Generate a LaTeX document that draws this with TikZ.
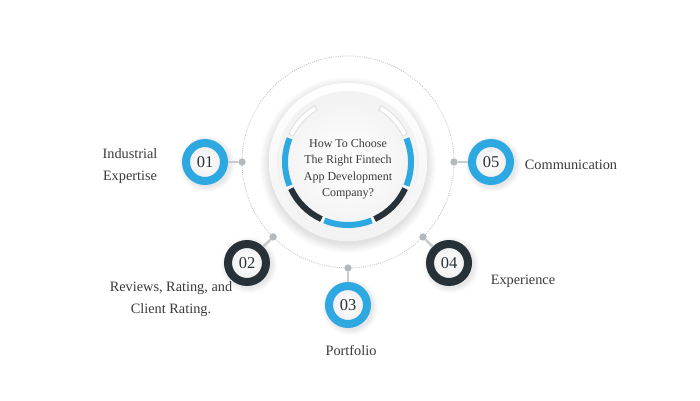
\documentclass[tikz,border=0pt]{standalone}
\usepackage{fontspec}
\setmainfont{Liberation Serif}
\usetikzlibrary{calc}
\definecolor{cblue}{HTML}{2EA8E0}
\definecolor{cdark}{HTML}{263238}
\definecolor{ctext}{HTML}{3A3A3A}
\definecolor{cgrey}{HTML}{B4B9BE}
\definecolor{cline}{HTML}{C9CCCF}
\tikzset{
  numring/.style={circle, draw=#1, line width=8pt, minimum size=38pt, inner sep=0pt,
    inner color=white, outer color=black!7, text=cdark,
    font=\fontsize{16.5}{16.5}\selectfont},
  dotnode/.style={circle, fill=cgrey, minimum size=7pt, inner sep=0pt},
  conn/.style={draw=cline, line width=2.5pt},
  lbl/.style={text=ctext, align=center, font=\fontsize{14.3}{22.5}\selectfont},
  seg/.style={line width=6pt},
}
\begin{document}
\begin{tikzpicture}[x=1pt,y=1pt]
\useasboundingbox (0,0) rectangle (700,400);
\fill[white] (0,0) rectangle (700,400);
\coordinate (C) at (348,238);
% dotted orbit
\draw[cgrey, line width=0.8pt, dash pattern=on 0.8pt off 1.4pt] (C) circle (106);
% big disk shadow
\foreach \i in {1,...,10} {
  \fill[black, opacity=0.012] ($(C)+(0,-3)$) circle ({78+\i});
}
\fill[white] (C) circle (79);
\shade[top color=white, bottom color=black!5] (C) circle (79);
\shade[inner color=white, outer color=black!5] (C) circle (71);
% ring segments
\draw[seg, black!13] ([shift={(120:63)}]C) arc[start angle=120, end angle=155, radius=63];
\draw[line width=4pt, white] ([shift={(121:63)}]C) arc[start angle=121, end angle=154, radius=63];
\draw[seg, black!13] ([shift={(25:63)}]C) arc[start angle=25, end angle=60, radius=63];
\draw[line width=4pt, white] ([shift={(26:63)}]C) arc[start angle=26, end angle=59, radius=63];
\draw[seg, cblue] ([shift={(158:63)}]C) arc[start angle=158, end angle=202, radius=63];
\draw[seg, cdark] ([shift={(205:63)}]C) arc[start angle=205, end angle=245, radius=63];
\draw[seg, cblue] ([shift={(248:63)}]C) arc[start angle=248, end angle=292, radius=63];
\draw[seg, cdark] ([shift={(295:63)}]C) arc[start angle=295, end angle=335, radius=63];
\draw[seg, cblue] ([shift={(338:63)}]C) arc[start angle=338, end angle=382, radius=63];
% title
\node[text=ctext, align=center, font=\fontsize{12}{16.5}\selectfont] (title) at (348,231)
  {How To Choose\\The Right Fintech\\App Development\\Company?};
% dots on orbit
\node[dotnode] (d1) at ([shift={(180:106)}]C) {};
\node[dotnode] (d2) at ([shift={(225:106)}]C) {};
\node[dotnode] (d3) at ([shift={(270:106)}]C) {};
\node[dotnode] (d4) at ([shift={(315:106)}]C) {};
\node[dotnode] (d5) at ([shift={(0:106)}]C) {};
% small circle shadows
\foreach \p in {(205,238),(247,137),(348,95),(449,137),(491,238)} {
  \foreach \i in {1,...,6} {
    \fill[black, opacity=0.015] \p ++(2,-2) circle ({22+\i});
  }
}
% numbered circles
\node[numring=cblue] (c1) at (205,238) {01};
\node[numring=cdark] (c2) at (247,137) {02};
\node[numring=cblue] (c3) at (348,95) {03};
\node[numring=cdark] (c4) at (449,137) {04};
\node[numring=cblue] (c5) at (491,238) {05};
% connectors
\draw[conn] (d1) -- (c1);
\draw[conn] (d2) -- (c2);
\draw[conn] (d3) -- (c3);
\draw[conn] (d4) -- (c4);
\draw[conn] (d5) -- (c5);
\node[dotnode] at (d1) {};
\node[dotnode] at (d2) {};
\node[dotnode] at (d3) {};
\node[dotnode] at (d4) {};
\node[dotnode] at (d5) {};
% labels
\node[lbl] (l1) at (130,234) {Industrial\\Expertise};
\node[lbl] (l2) at (171,101) {Reviews, Rating, and\\Client Rating.};
\node[lbl] (l3) at (351,49) {Portfolio};
\node[lbl] (l4) at (523,119) {Experience};
\node[lbl] (l5) at (571,235) {Communication};
\end{tikzpicture}
\end{document}
